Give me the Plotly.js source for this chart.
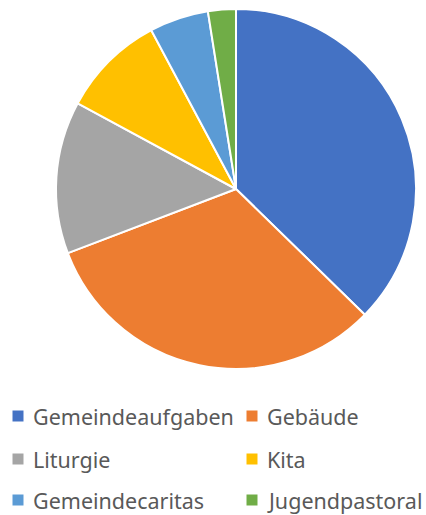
<!DOCTYPE html>
<html><head><meta charset="utf-8">
<script src="https://cdn.plot.ly/plotly-3.0.1.min.js"></script>
<style>html,body{margin:0;padding:0;background:#fff}#c{width:426px;height:515px}</style>
</head><body><div id="c"></div>
<script>
const labels = ["Gemeindeaufgaben","Gebäude","Liturgie","Kita","Gemeindecaritas","Jugendpastoral"];
const values = [37.3, 31.9, 13.7, 9.3, 5.3, 2.5];
const colors = ["#4472C4","#ED7D31","#A5A5A5","#FFC000","#5B9BD5","#70AD47"];

const W = 426, H = 515;
const colX = [18, 252];      // legend marker centers (px)
const rowY = [416, 459, 500];
const shapes = [], annotations = [];
labels.forEach((lab, i) => {
  const cx = colX[i % 2], cy = rowY[Math.floor(i / 2)];
  shapes.push({type:"rect", xref:"paper", yref:"paper",
    x0:(cx-5.5)/W, x1:(cx+5.5)/W, y0:1-(cy+5.5)/H, y1:1-(cy-5.5)/H,
    fillcolor:colors[i], line:{width:0}});
  annotations.push({text:lab, xref:"paper", yref:"paper", x:(cx+13)/W, y:1-cy/H,
    xanchor:"left", yanchor:"middle", showarrow:false,
    font:{family:"Noto Sans", size:21.5, color:"#595959"}});
});

Plotly.newPlot("c", [{
  type:"pie", labels:labels, values:values, sort:false, direction:"clockwise", rotation:0,
  marker:{colors:colors, line:{color:"#ffffff", width:2}},
  textinfo:"none", hoverinfo:"label+percent",
  domain:{x:[(236-180)/W,(236+180)/W], y:[1-369/H, 1-9/H]}
}], {
  width:W, height:H, margin:{l:0,r:0,t:0,b:0}, showlegend:false,
  paper_bgcolor:"#fff", shapes:shapes, annotations:annotations
}, {displayModeBar:false});
</script></body></html>
